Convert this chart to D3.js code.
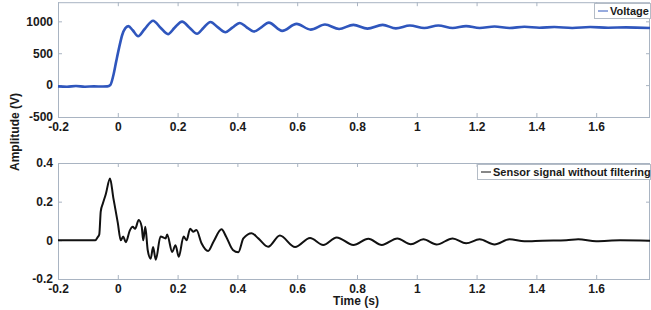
<!DOCTYPE html>
<html lang="en">
<head>
  <meta charset="UTF-8">
  <title>Voltage and sensor signal</title>
  <script src="https://d3js.org/d3.v7.min.js"></script>
  <style>
    body { margin: 0; background: #fff; }
    text { font-family: "Liberation Sans", Arial, Helvetica, sans-serif; font-weight: bold; fill: #1a1a1a; }
  </style>
</head>
<body>
  <div id="chart"></div>
  <script>

  // voltage trace (time in s, amplitude in V)
  const voltTime = [-0.2, -0.17, -0.14, -0.11, -0.08, -0.05, -0.035, -0.025, -0.015, -0.005,
                    0.005, 0.015, 0.025, 0.035, 0.05, 0.068, 0.09, 0.118, 0.143, 0.168,
                    0.19, 0.215, 0.24, 0.265, 0.287, 0.31, 0.335, 0.36, 0.383, 0.408,
                    0.43, 0.455, 0.48, 0.505, 0.55, 0.598, 0.645, 0.693, 0.74, 0.788,
                    0.835, 0.886, 0.93, 0.977, 1.025, 1.072, 1.12, 1.165, 1.21, 1.26,
                    1.31, 1.36, 1.41, 1.46, 1.52, 1.58, 1.64, 1.70, 1.78];
  const voltAmp  = [-20, -25, -15, -25, -20, -22, -20, 0, 150, 380,
                    600, 790, 890, 925, 860, 765, 880, 1010, 900, 800,
                    900, 995, 900, 805, 900, 990, 905, 830, 900, 975,
                    910, 840, 905, 980, 850, 960, 870, 950, 880, 945,
                    885, 945, 890, 935, 895, 935, 895, 925, 895, 920,
                    895, 915, 900, 910, 895, 910, 900, 905, 895];

  // sensor signal without filtering
  const sensTime = [-0.2, -0.15, -0.1, -0.075, -0.068, -0.062, -0.057, -0.05, -0.04, -0.026,
                    -0.015, -0.008, 0.0, 0.01, 0.018, 0.027, 0.04, 0.05, 0.058, 0.07,
                    0.08, 0.085, 0.092, 0.1, 0.11, 0.118, 0.127, 0.143, 0.16, 0.165,
                    0.182, 0.193, 0.204, 0.22, 0.23, 0.242, 0.252, 0.263, 0.28, 0.302,
                    0.32, 0.347, 0.362, 0.385, 0.403, 0.42, 0.448, 0.47, 0.503, 0.542,
                    0.593, 0.643, 0.687, 0.732, 0.788, 0.838, 0.883, 0.935, 0.98, 1.022,
                    1.066, 1.12, 1.165, 1.21, 1.26, 1.31, 1.36, 1.42, 1.5, 1.54,
                    1.6, 1.68, 1.78];
  const sensAmp  = [0, 0, 0, 0, 0.015, 0.03, 0.15, 0.19, 0.24, 0.32,
                    0.22, 0.16, 0.09, 0.0, 0.02, -0.01, 0.05, 0.07, 0.06, 0.105,
                    0.07, 0.0, 0.07, -0.05, -0.095, -0.035, -0.1, 0.02, 0.01, 0.03,
                    -0.06, -0.025, -0.085, 0.02, 0.0, 0.06, 0.045, 0.053, -0.015, -0.055,
                    -0.007, 0.057, 0.02, -0.05, -0.062, 0.01, 0.037, 0.01, -0.033, 0.025,
                    -0.035, 0.012, -0.024, 0.015, -0.024, 0.008, -0.024, 0.01, -0.02, 0.005,
                    -0.022, 0.01, -0.015, 0.005, -0.022, 0.005, -0.005, -0.002, 0.0, 0.005,
                    -0.005, 0.0, -0.002];

  // tick values
  const timeTicks = [-0.2, 0, 0.2, 0.4, 0.6, 0.8, 1, 1.2, 1.4, 1.6];
  const voltTicks = [-500, 0, 500, 1000];
  const sensTicks = [-0.2, 0, 0.2, 0.4];

  const width = 651;
  const height = 310;
  const frameColor = "#a9b4c2";

  const svg = d3.select("#chart")
                .append("svg")
                  .attr("width", width)
                  .attr("height", height);

  const x = d3.scaleLinear().domain([-0.2, 1.78]).range([58, 650]);
  const yVolt = d3.scaleLinear().domain([-500, 1300]).range([117, 2.2]);
  const ySens = d3.scaleLinear().domain([-0.2, 0.4]).range([279, 163]);

  // draws box, inward ticks on all four sides and tick labels
  function drawPanel(y, yTicks) {
    const x0 = x.range()[0], x1 = x.range()[1];
    const yb = y.range()[0], yt = y.range()[1];

    const g = svg.append("g");

    g.append("g")
      .attr("transform", "translate(0," + yb + ")")
      .call(d3.axisBottom(x).tickValues(timeTicks).tickSizeInner(-4).tickSizeOuter(0)
              .tickPadding(5).tickFormat(d => String(d)));
    g.append("g")
      .attr("transform", "translate(0," + yt + ")")
      .call(d3.axisTop(x).tickValues(timeTicks).tickSizeInner(-4).tickSizeOuter(0).tickFormat(""));
    g.append("g")
      .attr("transform", "translate(" + x0 + ",0)")
      .call(d3.axisLeft(y).tickValues(yTicks).tickSizeInner(-4).tickSizeOuter(0)
              .tickPadding(5).tickFormat(d => String(d)));
    g.append("g")
      .attr("transform", "translate(" + x1 + ",0)")
      .call(d3.axisRight(y).tickValues(yTicks).tickSizeInner(-4).tickSizeOuter(0).tickFormat(""));

    g.selectAll(".domain").remove();
    g.selectAll(".tick line").attr("stroke", frameColor);
    g.selectAll(".tick text").style("font-size", "12px").attr("fill", "#1a1a1a");

    g.append("rect")
      .attr("x", x0 + 0.5)
      .attr("y", yt + 0.5)
      .attr("width", x1 - x0 - 1)
      .attr("height", yb - yt)
      .attr("fill", "none")
      .attr("stroke", frameColor);
    return g;
  }

  function drawLegend(left, top, w, color, label) {
    const g = svg.append("g");
    g.append("rect")
      .attr("x", left + 0.5).attr("y", top + 0.5)
      .attr("width", w).attr("height", 15)
      .attr("fill", "#fff")
      .attr("stroke", "#b4bcc6");
    g.append("line")
      .attr("x1", left + 4).attr("x2", left + 14)
      .attr("y1", top + 8).attr("y2", top + 8)
      .attr("stroke", color).attr("stroke-width", 1);
    g.append("text")
      .attr("x", left + 16).attr("y", top + 12)
      .style("font-size", "11px")
      .text(label);
  }

  drawPanel(yVolt, voltTicks);
  drawPanel(ySens, sensTicks);

  const voltData = voltTime.map((t, i) => ({t: t, v: voltAmp[i]}));
  const sensData = sensTime.map((t, i) => ({t: t, v: sensAmp[i]}));

  svg.append("path")
      .datum(voltData)
      .attr("fill", "none")
      .attr("stroke", "#2f56bd")
      .attr("stroke-width", 2.6)
      .attr("d", d3.line().x(d => x(d.t)).y(d => yVolt(d.v)).curve(d3.curveMonotoneX));

  svg.append("path")
      .datum(sensData)
      .attr("fill", "none")
      .attr("stroke", "#111")
      .attr("stroke-width", 2)
      .attr("stroke-linejoin", "round")
      .attr("d", d3.line().x(d => x(d.t)).y(d => ySens(d.v)).curve(d3.curveMonotoneX));

  drawLegend(594, 3, 56, "#2f56bd", "Voltage");
  drawLegend(477, 164, 173, "#111", "Sensor signal without filtering");

  // axis titles
  svg.append("text")
      .attr("x", 356)
      .attr("y", 305)
      .attr("text-anchor", "middle")
      .style("font-size", "12px")
      .text("Time (s)");

  svg.append("text")
      .attr("transform", "translate(19,132) rotate(-90)")
      .attr("text-anchor", "middle")
      .style("font-size", "12px")
      .text("Amplitude (V)");

  </script>
</body>
</html>
